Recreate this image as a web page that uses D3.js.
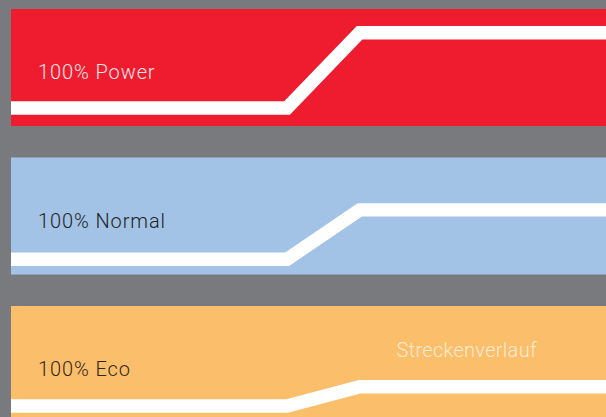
<!DOCTYPE html>
<html>
<head>
<meta charset="utf-8">
<script src="https://cdn.jsdelivr.net/npm/d3@7"></script>
<style>
  html, body { margin: 0; padding: 0; background: #797a7e; }
  svg { display: block; }
  text { font-family: Roboto, "Liberation Sans", Arial, sans-serif; font-weight: 300; }
</style>
</head>
<body>
<svg id="chart" width="606" height="417"></svg>
<script>
// ---- data ----
const categories = ["100% Power", "100% Normal", "100% Eco"];
const distance = [0, 46.4, 58.6, 100];           // route position (% of route)
const profilePower  = [6, 6, 81.3, 81.3];        // profile level per point
const profileNormal = [3.3, 3.3, 52.6, 52.6];
const profileEco    = [5, 5, 24.3, 24.3];
const routeLabel = "Streckenverlauf";

const profiles = [profilePower, profileNormal, profileEco];
const panelFill = ["#ee1c2e", "#a2c3e5", "#fbbe6a"];
const labelFill = ["#fde6e8", "#222224", "#33271a"];

// ---- layout ----
const W = 606, H = 417;
const svg = d3.select("#chart");
svg.append("rect").attr("width", W).attr("height", H).attr("fill", "#797a7e");

const band = d3.scaleBand().domain(categories).range([9, 423]).paddingInner(0.2121).paddingOuter(0);
const x = d3.scaleLinear().domain([0, 100]).range([11, 606]);

categories.forEach((cat, i) => {
  const top = band(cat);
  const g = svg.append("g");
  g.append("rect")
    .attr("x", x(0)).attr("y", top)
    .attr("width", x(100) - x(0)).attr("height", band.bandwidth())
    .attr("fill", panelFill[i]);

  const y = d3.scaleLinear().domain([0, 105]).range([top + 105, top]);
  const line = d3.line().x((d, k) => x(distance[k])).y(d => y(d));
  g.append("path")
    .datum(profiles[i])
    .attr("d", line)
    .attr("fill", "none")
    .attr("stroke", "#ffffff")
    .attr("stroke-width", 13.4)
    .attr("stroke-linejoin", "miter")
    .attr("stroke-linecap", "butt");

  g.append("text")
    .attr("x", 38)
    .attr("y", top + 70.3)
    .attr("font-size", 20)
    .attr("letter-spacing", 0.9)
    .attr("fill", labelFill[i])
    .text(cat);

  if (i === 2) {
    g.append("text")
      .attr("x", 396.5)
      .attr("y", top + 51.3)
      .attr("font-size", 20)
      .attr("letter-spacing", 0.3)
      .attr("fill", "#fdebd3")
      .text(routeLabel);
  }
});
</script>
</body>
</html>
